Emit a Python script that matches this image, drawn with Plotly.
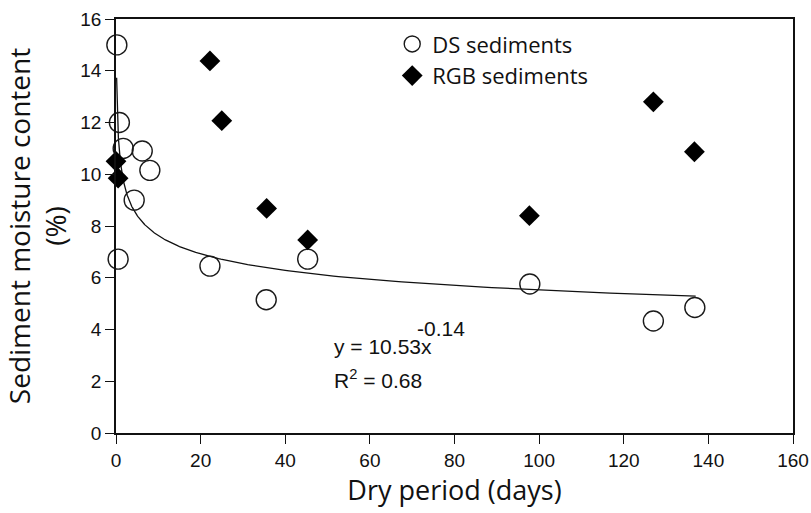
import numpy as np
import plotly.graph_objects as go

# DS sediments (open circles)
ds_days = [0.2, 0.8, 1.7, 6.2, 8.0, 4.3, 0.5, 22.2, 35.5, 45.3, 97.8, 127.0, 136.8]
ds_moisture = [15.0, 12.0, 11.0, 10.9, 10.15, 9.0, 6.72, 6.45, 5.15, 6.72, 5.76, 4.33, 4.85]

# RGB sediments (filled diamonds)
rgb_days = [0.0, 0.5, 22.2, 25.0, 35.6, 45.3, 97.7, 127.0, 136.7]
rgb_moisture = [10.5, 9.85, 14.38, 12.07, 8.68, 7.46, 8.40, 12.80, 10.87]

# Power-law fit of the DS data: y = a * x^b
fit_a = 10.53
fit_b = -0.14
fit_r2 = 0.68
fit_x_start = 0.15
fit_x_end = 137.0

x_ticks = list(range(0, 161, 20))
y_ticks = list(range(0, 17, 2))

fit_x = np.geomspace(fit_x_start, fit_x_end, 300)
fit_y = fit_a * fit_x ** fit_b

fig = go.Figure()

fig.add_trace(go.Scatter(
    x=fit_x, y=fit_y, mode="lines",
    line=dict(color="#111111", width=1.3),
    showlegend=False, hoverinfo="skip",
))

fig.add_trace(go.Scatter(
    x=ds_days, y=ds_moisture, mode="markers", name="DS sediments",
    marker=dict(symbol="circle", size=20, color="rgba(255,255,255,0)",
                line=dict(color="#1a1a1a", width=1.4)),
    cliponaxis=False,
))

fig.add_trace(go.Scatter(
    x=rgb_days, y=rgb_moisture, mode="markers", name="RGB sediments",
    marker=dict(symbol="diamond", size=16, color="#000000",
                line=dict(color="#000000", width=0)),
    cliponaxis=False,
))

tick_font = dict(family="Liberation Sans, Arial, sans-serif", size=19, color="#111111")
title_font = dict(family="Open Sans, sans-serif", size=27, color="#111111")

fig.update_layout(
    width=811, height=513,
    margin=dict(l=116, r=18, t=19, b=80, autoexpand=False),
    paper_bgcolor="white", plot_bgcolor="white",
    legend=dict(
        x=0.408, y=0.99, xanchor="left", yanchor="top",
        font=dict(family="Open Sans, sans-serif", size=22, color="#111111"),
        bgcolor="rgba(255,255,255,0)", itemsizing="trace",
        tracegroupgap=0,
    ),
    xaxis=dict(
        range=[0, 160], tickvals=x_ticks, ticktext=[str(v) for v in x_ticks],
        showgrid=False, zeroline=False, automargin=False,
        showline=True, linecolor="#111111", linewidth=1.6, mirror=True,
        ticks="outside", ticklen=9, tickwidth=1.4, tickcolor="#111111",
        tickfont=tick_font,
        title=dict(text="Dry period (days)", font=title_font, standoff=6),
    ),
    yaxis=dict(
        range=[0, 16], tickvals=y_ticks, ticktext=[str(v) for v in y_ticks],
        showgrid=False, zeroline=False, automargin=False,
        showline=True, linecolor="#111111", linewidth=1.6, mirror=True,
        ticks="outside", ticklen=9, tickwidth=1.4, tickcolor="#111111",
        tickfont=tick_font,
        title=dict(text="Sediment moisture content<br>(%)",
                   font=dict(family="Open Sans, sans-serif", size=28, color="#111111"),
                   standoff=8),
    ),
)

eq_font = dict(family="Liberation Sans, Arial, sans-serif", size=21, color="#111111")
fig.add_annotation(x=51.0, y=3.35, xref="x", yref="y", xanchor="left", yanchor="middle",
                   text=f"y = {fit_a:.2f}x", showarrow=False, font=eq_font)
fig.add_annotation(x=70.6, y=4.05, xref="x", yref="y", xanchor="left", yanchor="middle",
                   text=f"{fit_b:.2f}", showarrow=False, font=eq_font)
fig.add_annotation(x=51.0, y=2.1, xref="x", yref="y", xanchor="left", yanchor="middle",
                   text=f"R<sup>2</sup> = {fit_r2:.2f}", showarrow=False, font=eq_font)

fig.write_html("out.html")
